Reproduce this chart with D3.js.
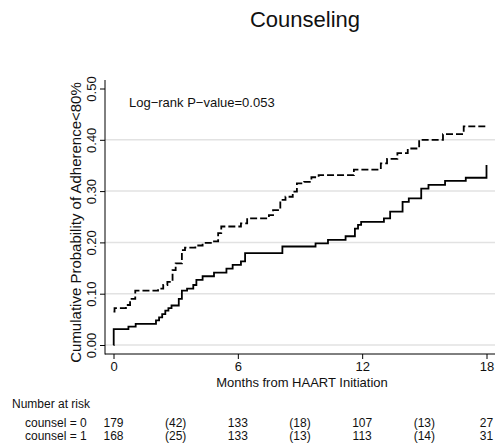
<!DOCTYPE html>
<html>
<head>
<meta charset="utf-8">
<script src="https://cdn.jsdelivr.net/npm/d3@7"></script>
<style>
  body { margin: 0; background: #fff; }
  svg { display: block; font-family: "Liberation Sans", Arial, sans-serif; }
</style>
</head>
<body>
<svg width="495" height="445"></svg>
<script>
// step curves: [month, cumulative probability]
const counsel0 = [
  [0, 0.065], [0.05, 0.072], [0.6, 0.078], [0.8, 0.09], [1.05, 0.106], [2.15, 0.11],
  [2.4, 0.117], [2.6, 0.123], [2.85, 0.146], [3.0, 0.159], [3.3, 0.185], [3.45, 0.19],
  [3.95, 0.194], [4.3, 0.199], [4.85, 0.202], [5.05, 0.218], [5.2, 0.231], [6.15, 0.237],
  [6.45, 0.247], [7.5, 0.253], [7.7, 0.263], [8.05, 0.283], [8.3, 0.289], [8.65, 0.299],
  [8.85, 0.315], [9.2, 0.318], [9.55, 0.327], [9.9, 0.331], [11.6, 0.342], [12.9, 0.354],
  [13.2, 0.363], [13.7, 0.374], [14.2, 0.383], [14.75, 0.4], [15.9, 0.411], [16.9, 0.426],
  [18, 0.426]
];
const counsel1 = [
  [0, 0], [0.01, 0.031], [0.72, 0.036], [1.07, 0.041], [2.05, 0.048], [2.2, 0.054],
  [2.35, 0.06], [2.5, 0.067], [2.65, 0.072], [2.8, 0.077], [3.15, 0.09], [3.3, 0.106],
  [3.55, 0.11], [3.85, 0.117], [4.0, 0.127], [4.3, 0.134], [4.85, 0.141], [5.45, 0.149],
  [5.75, 0.156], [6.15, 0.163], [6.35, 0.179], [8.15, 0.192], [9.75, 0.198], [10.35, 0.205],
  [11.2, 0.212], [11.65, 0.227], [11.8, 0.234], [11.95, 0.24], [13.05, 0.247], [13.35, 0.26],
  [13.95, 0.279], [14.25, 0.286], [14.85, 0.305], [15.2, 0.312], [16.0, 0.32], [17.0, 0.326],
  [18, 0.326], [18, 0.351]
];

const xTicks = [0, 6, 12, 18];
const yTicks = [0, 0.1, 0.2, 0.3, 0.4, 0.5];
const gridTicks = [0, 0.1, 0.2, 0.3, 0.4];

// number at risk table
const riskTimes = [0, 3, 6, 9, 12, 15, 18];
const riskRows = ["counsel = 0", "counsel = 1"];
const riskCounts = [
  ["179", "(42)", "133", "(18)", "107", "(13)", "27"],
  ["168", "(25)", "133", "(13)", "113", "(14)", "31"]
];

const svg = d3.select("svg");
const x = d3.scaleLinear().domain([0, 18]).range([113.5, 486.5]);
const y = d3.scaleLinear().domain([0, 0.5]).range([345, 88.5]);
const plotLeft = 105, plotBottom = 354, plotTop = 80, plotRight = 495;

// title
svg.append("text")
  .attr("x", 305).attr("y", 27)
  .attr("text-anchor", "middle")
  .attr("font-size", 22)
  .attr("fill", "#111")
  .text("Counseling");

// gridlines
svg.append("g").selectAll("line")
  .data(gridTicks).enter().append("line")
  .attr("x1", plotLeft).attr("x2", plotRight)
  .attr("y1", d => y(d)).attr("y2", d => y(d))
  .attr("stroke", "#e2e2e2")
  .attr("stroke-width", 1.5);

// axes
const yAxis = svg.append("g")
  .attr("transform", `translate(${plotLeft},0)`)
  .call(d3.axisLeft(y).tickValues(yTicks).tickSize(5).tickFormat(d3.format(".2f")));
yAxis.select(".domain").remove();
yAxis.selectAll(".tick text")
  .attr("font-size", 13)
  .attr("font-family", "Liberation Sans, Arial, sans-serif")
  .attr("fill", "#111")
  .attr("text-anchor", "middle")
  .attr("dy", 0)
  .attr("x", 0)
  .attr("transform", "translate(-9,0) rotate(-90)");

const xAxis = svg.append("g")
  .attr("transform", `translate(0,${plotBottom})`)
  .call(d3.axisBottom(x).tickValues(xTicks).tickSize(5).tickFormat(d3.format("d")));
xAxis.select(".domain").remove();
xAxis.selectAll(".tick text")
  .attr("font-size", 13)
  .attr("font-family", "Liberation Sans, Arial, sans-serif")
  .attr("fill", "#111")
  .attr("y", 8);

svg.append("line")
  .attr("x1", plotLeft).attr("x2", plotLeft)
  .attr("y1", plotTop).attr("y2", plotBottom + 0.5)
  .attr("stroke", "#000");
svg.append("line")
  .attr("x1", plotLeft).attr("x2", plotRight)
  .attr("y1", plotBottom).attr("y2", plotBottom)
  .attr("stroke", "#000");

// axis titles
svg.append("text")
  .attr("transform", `translate(81,${(plotTop + 365) / 2}) rotate(-90)`)
  .attr("text-anchor", "middle")
  .attr("font-size", 15)
  .attr("fill", "#111")
  .text("Cumulative Probability of Adherence<80%");

svg.append("text")
  .attr("x", 302).attr("y", 387)
  .attr("text-anchor", "middle")
  .attr("font-size", 13)
  .attr("fill", "#111")
  .text("Months from HAART Initiation");

// log-rank annotation
svg.append("text")
  .attr("x", 129).attr("y", 107)
  .attr("font-size", 13)
  .attr("fill", "#111")
  .text("Log\u2212rank P\u2212value=0.053");

// curves
const line = d3.line()
  .x(d => x(d[0]))
  .y(d => y(d[1]))
  .curve(d3.curveStepAfter);

svg.append("path")
  .datum(counsel0)
  .attr("d", line)
  .attr("fill", "none")
  .attr("stroke", "#000")
  .attr("stroke-width", 1.8)
  .attr("stroke-dasharray", "7,3");

svg.append("path")
  .datum(counsel1)
  .attr("d", line)
  .attr("fill", "none")
  .attr("stroke", "#000")
  .attr("stroke-width", 1.8);

// number at risk
svg.append("text")
  .attr("x", 12).attr("y", 408)
  .attr("font-size", 12)
  .attr("fill", "#111")
  .text("Number at risk");

riskRows.forEach((label, i) => {
  const rowY = 427 + i * 13;
  svg.append("text")
    .attr("x", 25).attr("y", rowY)
    .attr("font-size", 12)
    .attr("fill", "#111")
    .text(label);
  svg.append("g").selectAll("text")
    .data(riskCounts[i]).enter().append("text")
    .attr("x", (d, j) => x(riskTimes[j]))
    .attr("y", rowY)
    .attr("text-anchor", "middle")
    .attr("font-size", 12)
    .attr("fill", "#111")
    .text(d => d);
});
</script>
</body>
</html>
